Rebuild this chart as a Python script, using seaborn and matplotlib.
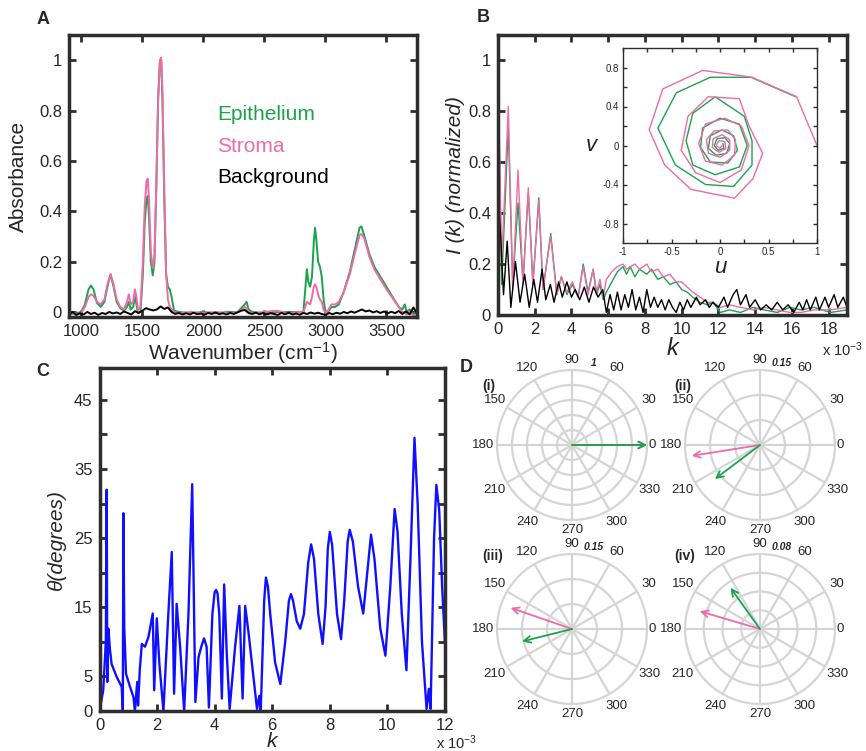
import matplotlib
matplotlib.use("Agg")
import matplotlib.pyplot as plt
import numpy as np
import seaborn as sns

# ---------------- A: FTIR spectra ----------------
wavenumber = [900, 950, 1000, 1030, 1060, 1080, 1100, 1130, 1160, 1190, 1215, 1240, 1265, 1290,
              1320, 1350, 1375, 1390, 1405, 1425, 1440, 1452, 1465, 1485, 1505, 1520, 1535, 1545,
              1555, 1570, 1586, 1600, 1615, 1630, 1645, 1655, 1665, 1680, 1695, 1710, 1725, 1740,
              1760, 1800, 1900, 2000, 2100, 2200, 2280, 2320, 2340, 2355, 2370, 2400, 2500, 2600,
              2700, 2780, 2820, 2835, 2848, 2860, 2875, 2890, 2905, 2915, 2925, 2940, 2955, 2970,
              2985, 3000, 3020, 3050, 3080, 3110, 3150, 3200, 3250, 3280, 3295, 3320, 3360, 3400,
              3450, 3500, 3550, 3600, 3630, 3650, 3665, 3690, 3720, 3750]
epithelium = [0.0, -0.005, 0.0, 0.03, 0.09, 0.105, 0.09, 0.035, 0.02, 0.04, 0.10, 0.15, 0.10, 0.04,
              0.015, 0.005, 0.02, 0.04, 0.01, 0.02, 0.06, 0.03, -0.005, 0.0, 0.15, 0.35, 0.45, 0.46,
              0.38, 0.2, 0.145, 0.2, 0.5, 0.85, 1.0, 1.0, 0.85, 0.45, 0.15, 0.1, 0.09, 0.06,
              0.005, 0.0, -0.005, 0.0, -0.005, 0.0, 0.0, 0.02, 0.03, 0.04, 0.01, 0.0, -0.005, 0.0,
              0.0, 0.0, 0.0, 0.09, 0.17, 0.12, 0.1, 0.14, 0.28, 0.335, 0.29, 0.2, 0.18, 0.14,
              0.05, 0.0, 0.0, 0.02, 0.02, 0.03, 0.08, 0.16, 0.27, 0.335, 0.34, 0.3, 0.23, 0.18,
              0.14, 0.1, 0.06, 0.02, 0.01, 0.03, 0.0, 0.01, -0.01, 0.005]
stroma = [-0.005, -0.01, -0.005, 0.02, 0.06, 0.07, 0.065, 0.04, 0.03, 0.05, 0.11, 0.15, 0.11, 0.05,
          0.02, 0.01, 0.04, 0.07, 0.03, 0.04, 0.09, 0.06, 0.01, 0.02, 0.2, 0.42, 0.52, 0.53,
          0.45, 0.24, 0.175, 0.22, 0.5, 0.84, 1.0, 1.01, 0.88, 0.5, 0.16, 0.05, 0.02, 0.01,
          0.0, -0.005, 0.0, -0.005, 0.0, -0.005, 0.0, 0.01, 0.02, 0.015, 0.0, -0.005, 0.0, 0.005,
          -0.005, 0.0, 0.0, 0.02, 0.04, 0.035, 0.03, 0.06, 0.1, 0.11, 0.1, 0.07, 0.05, 0.04,
          0.01, -0.005, 0.005, 0.03, 0.03, 0.04, 0.08, 0.15, 0.25, 0.305, 0.31, 0.29, 0.22, 0.17,
          0.13, 0.09, 0.055, 0.02, 0.0, 0.0, -0.01, 0.0, -0.015, -0.01]
bg_wavenumber = list(range(900, 3751, 30))
background = [-0.01, 0.0, -0.012, -0.005, -0.01, 0.0, -0.008, -0.003, -0.012, -0.004, -0.008, 0.0,
              -0.006, -0.002, -0.008, 0.002, -0.004, -0.01, 0.003, -0.004, 0.005, 0.015, 0.01, 0.006,
              0.01, 0.022, 0.012, 0.018, 0.0, -0.008, -0.004, -0.01, -0.005, -0.01, -0.003, -0.009,
              -0.006, -0.011, -0.004, -0.008, -0.002, -0.009, -0.005, -0.01, -0.004, -0.008, -0.002, 0.005,
              0.008, -0.004, -0.008, -0.003, -0.009, -0.004, -0.01, -0.005, -0.008, -0.012, -0.004, -0.009,
              -0.003, -0.01, -0.006, -0.011, -0.004, -0.008, -0.002, -0.007, -0.003, -0.008, -0.012, -0.004,
              -0.009, -0.003, -0.007, 0.0, -0.005, 0.002, -0.003, 0.004, 0.01, 0.002, 0.006, -0.002,
              0.003, -0.004, 0.002, -0.006, 0.001, -0.005, 0.004, -0.008, 0.002, -0.01, 0.018, -0.005]

# ---------------- B: I(k) ----------------
k_tissue = [0.0, 0.2, 0.56, 0.8, 1.09, 1.36, 1.65, 1.9, 2.22, 2.45, 2.87, 3.2, 3.45, 3.75, 4.05,
            4.36, 4.64, 4.9, 5.18, 5.36, 5.55, 5.73, 5.9, 6.2, 6.5, 6.8, 7.0, 7.2, 7.45, 7.7,
            8.1, 8.35, 8.7, 9.0, 9.36, 9.7, 10.0, 10.3, 10.6, 11.0, 11.4, 11.7, 12.1, 12.6, 13.2,
            13.9, 14.5, 15.2, 15.9, 16.5, 17.2, 18.1, 19.0]
Ik_stroma = [1.0, 0.2, 0.82, 0.1, 0.57, 0.12, 0.5, 0.12, 0.45, 0.1, 0.31, 0.08, 0.15, 0.09, 0.13,
             0.07, 0.19, 0.08, 0.18, 0.09, 0.14, 0.07, 0.14, 0.17, 0.19, 0.2, 0.18, 0.19, 0.2, 0.18,
             0.2, 0.17, 0.18, 0.15, 0.16, 0.13, 0.13, 0.11, 0.09, 0.07, 0.05, 0.05, 0.03, 0.04, 0.03,
             0.02, 0.03, 0.02, 0.01, 0.01, 0.02, 0.02, 0.03]
Ik_epithelium = [0.93, 0.12, 0.74, 0.12, 0.44, 0.13, 0.48, 0.12, 0.46, 0.1, 0.32, 0.08, 0.15, 0.08, 0.12,
                 0.07, 0.2, 0.09, 0.18, 0.08, 0.12, 0.06, 0.09, 0.13, 0.17, 0.19, 0.16, 0.19, 0.15, 0.18,
                 0.16, 0.18, 0.14, 0.15, 0.12, 0.13, 0.1, 0.09, 0.07, 0.05, 0.04, 0.05, 0.01, 0.02, 0.01,
                 0.03, 0.02, 0.01, 0.03, 0.02, 0.03, 0.01, 0.02]
k_bg = [0.0, 0.15, 0.3, 0.5, 0.7, 0.95, 1.2, 1.45, 1.7, 1.95, 2.15, 2.4, 2.6, 2.85, 3.05, 3.3, 3.5,
        3.75, 4.0, 4.2, 4.45, 4.7, 4.95, 5.2, 5.45, 5.7, 5.9, 6.1, 6.3, 6.5, 6.7, 6.9, 7.1, 7.3,
        7.5, 7.7, 7.9, 8.1, 8.3, 8.5, 8.7, 8.9, 9.1, 9.3, 9.5, 9.7, 9.9, 10.1, 10.3, 10.5, 10.8,
        11.0, 11.3, 11.5, 11.7, 12.0, 12.3, 12.5, 12.8, 13.0, 13.2, 13.5, 13.7, 14.0, 14.3, 14.6,
        14.9, 15.2, 15.5, 15.8, 16.1, 16.4, 16.6, 16.8, 17.0, 17.3, 17.5, 17.8, 18.0, 18.3, 18.5,
        18.8, 19.0]
Ik_background = [0.48, 0.3, 0.08, 0.29, 0.03, 0.21, 0.05, 0.16, 0.03, 0.14, 0.05, 0.18, 0.06, 0.12,
                 0.05, 0.13, 0.07, 0.13, 0.07, 0.1, 0.06, 0.11, 0.05, 0.11, 0.07, 0.1, 0.01, 0.08,
                 0.02, 0.09, 0.02, 0.08, 0.03, 0.1, 0.02, 0.07, 0.01, 0.1, 0.03, 0.07, 0.03, 0.06,
                 0.02, 0.06, 0.03, 0.01, 0.05, 0.02, 0.06, 0.03, 0.07, 0.04, 0.06, 0.03, 0.05, 0.03,
                 0.07, 0.03, 0.08, 0.1, 0.04, 0.08, 0.03, 0.06, 0.02, 0.04, 0.02, 0.05, 0.02, 0.04,
                 0.01, 0.05, 0.02, 0.06, 0.02, 0.07, 0.02, 0.07, 0.03, 0.08, 0.03, 0.07, 0.03]

# inset: (u, v) trajectories
u_stroma = [1.0, 0.79, 0.33, -0.18, -0.59, -0.73, -0.57, -0.3, 0.15, 0.34, 0.44, 0.3, 0.2, -0.12,
            -0.33, -0.4, -0.25, 0.0, 0.22, 0.3, 0.22, 0.05, -0.15, -0.22, -0.15, 0.02, 0.15, 0.16,
            0.08, -0.06, -0.14, -0.12, 0.0, 0.1, 0.1, 0.02, -0.07, -0.08, -0.01, 0.06, 0.05, -0.01,
            -0.04, 0.0, 0.02]
v_stroma = [0.0, 0.5, 0.7, 0.77, 0.58, 0.16, -0.2, -0.45, -0.54, -0.34, -0.08, 0.2, 0.48, 0.5,
            0.3, -0.05, -0.28, -0.38, -0.25, 0.0, 0.2, 0.28, 0.22, 0.02, -0.16, -0.2, -0.1, 0.06,
            0.16, 0.15, 0.06, -0.08, -0.12, -0.05, 0.06, 0.11, 0.07, -0.02, -0.07, -0.03, 0.04, 0.05,
            0.0, -0.03, 0.0]
u_epithelium = [0.78, 0.32, -0.1, -0.45, -0.64, -0.46, -0.15, 0.14, 0.33, 0.33, 0.25, -0.05, -0.28,
                -0.35, -0.28, -0.05, 0.2, 0.28, 0.2, 0.0, -0.18, -0.2, -0.1, 0.08, 0.18, 0.14, 0.02,
                -0.1, -0.12, -0.04, 0.07, 0.1, 0.05, -0.03, -0.06, -0.02, 0.04, 0.03]
v_epithelium = [0.5, 0.7, 0.7, 0.54, 0.18, -0.2, -0.4, -0.42, -0.2, 0.05, 0.3, 0.5, 0.33, 0.05,
                -0.2, -0.3, -0.22, 0.0, 0.22, 0.28, 0.18, -0.02, -0.17, -0.18, -0.05, 0.1, 0.16,
                0.1, -0.03, -0.1, -0.08, 0.02, 0.08, 0.07, 0.0, -0.05, -0.03, 0.02]

# ---------------- C: theta(k) ----------------
k_theta = [0.0, 0.13, 0.22, 0.25, 0.27, 0.31, 0.36, 0.42, 0.6, 0.77, 0.81, 0.83, 0.86, 0.92, 1.06,
           1.18, 1.23, 1.31, 1.34, 1.4, 1.47, 1.58, 1.7, 1.85, 1.9, 1.99, 2.08, 2.22, 2.39, 2.51,
           2.59, 2.68, 2.8, 2.94, 3.09, 3.22, 3.33, 3.44, 3.55, 3.63, 3.72, 3.8, 3.92, 4.0, 4.05,
           4.1, 4.16, 4.25, 4.33, 4.42, 4.52, 4.71, 4.86, 4.97, 5.06, 5.18, 5.47, 5.55, 5.6, 5.72,
           5.78, 5.85, 5.93, 6.1, 6.28, 6.45, 6.58, 6.65, 6.72, 6.85, 6.97, 7.1, 7.25, 7.35, 7.45,
           7.6, 7.75, 7.85, 7.93, 8.0, 8.08, 8.25, 8.39, 8.5, 8.62, 8.69, 8.8, 8.98, 9.16, 9.3,
           9.43, 9.55, 9.75, 9.93, 10.1, 10.25, 10.35, 10.5, 10.66, 10.8, 10.94, 11.05, 11.2,
           11.36, 11.44, 11.5, 11.62, 11.7, 11.8, 11.9, 12.0]
theta_deg = [0.0, 3.0, 10.0, 32.0, 4.2, 11.9, 9.0, 6.8, 4.9, 3.5, 0.0, 28.6, 12.0, 5.4, 3.5,
             2.0, 0.0, 4.2, 0.8, 6.0, 9.7, 9.3, 10.7, 14.1, 3.0, 13.4, 6.8, 0.0, 14.0, 23.0,
             2.5, 15.5, 9.3, 0.0, 14.0, 32.8, 1.3, 7.8, 9.5, 10.5, 9.3, 0.5, 14.0, 17.2, 17.5,
             17.0, 14.0, 1.8, 18.3, 8.3, 0.3, 9.3, 15.2, 1.8, 15.2, 11.2, 0.3, 2.2, 0.0, 16.0,
             19.3, 18.0, 14.0, 7.0, 3.9, 10.0, 16.0, 16.9, 16.0, 13.0, 11.9, 14.0, 21.5, 24.1, 22.0,
             14.0, 9.7, 15.0, 23.5, 25.9, 24.0, 14.0, 10.4, 16.0, 24.5, 26.2, 24.5, 18.0, 14.1, 20.0,
             25.5, 22.0, 12.0, 8.0, 18.0, 29.2, 26.0, 14.0, 5.9, 22.0, 39.5, 30.0, 10.0,
             0.3, 3.2, 0.3, 25.0, 32.7, 29.0, 18.0, 9.7]

# ---------------- D: polar vectors ----------------
polar_names = ["(i)", "(ii)", "(iii)", "(iv)"]
polar_rmax = [1.0, 0.15, 0.15, 0.08]
polar_rmax_label = ["1", "0.15", "0.15", "0.08"]
polar_rings = [[0.2, 0.4, 0.6, 0.8], [0.05, 0.1], [0.05, 0.1], [0.02, 0.04, 0.06]]
stroma_angle = [0, 189, 161, 163.6]
stroma_mag = [1.0, 0.138, 0.13, 0.067]
epi_angle = [0, 217, 194, 125.6]
epi_mag = [1.0, 0.113, 0.103, 0.054]

GREEN = "#1ba34c"
PINK = "#ef6aa7"
FRAME = "#2e2e2e"

sns.set_style("ticks")
plt.rcParams["font.family"] = ["Liberation Sans", "DejaVu Sans"]
plt.rcParams["mathtext.fontset"] = "custom"
plt.rcParams["mathtext.rm"] = "Liberation Sans"
plt.rcParams["mathtext.it"] = "Liberation Sans:italic"

W, H = 866, 751
fig = plt.figure(figsize=(W / 100, H / 100), dpi=100)


def box(x0, y0, x1, y1):
    # pixel box -> figure fraction
    return [x0 / W, 1 - y1 / H, (x1 - x0) / W, (y1 - y0) / H]


def frame(ax, lw=2.5, tl=5, tw=2, size=12):
    for sp in ax.spines.values():
        sp.set_visible(True)
        sp.set_linewidth(lw)
        sp.set_color(FRAME)
    ax.tick_params(direction="in", top=True, right=True, length=tl, width=tw,
                   color=FRAME, labelsize=size, pad=5)


# ---- A ----
axA = fig.add_axes(box(69, 35, 417, 317))
sns.lineplot(x=wavenumber, y=epithelium, ax=axA, color=GREEN, lw=1.4, estimator=None, sort=False)
sns.lineplot(x=wavenumber, y=stroma, ax=axA, color=PINK, lw=1.4, estimator=None, sort=False)
sns.lineplot(x=bg_wavenumber, y=background, ax=axA, color="black", lw=1.4, estimator=None, sort=False)
axA.set_xlim(900, 3750)
axA.set_ylim(-0.02, 1.1)
axA.set_xticks([1000, 1500, 2000, 2500, 3000, 3500])
axA.set_yticks([0, 0.2, 0.4, 0.6, 0.8, 1.0])
axA.set_yticklabels(["0", "0.2", "0.4", "0.6", "0.8", "1"])
frame(axA)
axA.set_xlabel("Wavenumber (cm$^{-1}$)", fontsize=15, labelpad=1)
axA.set_ylabel("Absorbance", fontsize=15, labelpad=8)
for txt, col, py in [("Epithelium", GREEN, 115), ("Stroma", PINK, 147), ("Background", "black", 178)]:
    axA.text((217 - 69) / 348, 1 - (py - 35) / 282, txt, color=col, fontsize=15,
             transform=axA.transAxes, va="center")

# ---- B ----
axB = fig.add_axes(box(498, 35, 847, 315))
sns.lineplot(x=k_tissue, y=Ik_epithelium, ax=axB, color=GREEN, lw=1.0, estimator=None, sort=False)
sns.lineplot(x=k_tissue, y=Ik_stroma, ax=axB, color=PINK, lw=1.0, estimator=None, sort=False)
sns.lineplot(x=k_bg, y=Ik_background, ax=axB, color="black", lw=1.0, estimator=None, sort=False)
axB.set_xlim(0, 19)
axB.set_ylim(0, 1.1)
axB.set_xticks(range(0, 19, 2))
axB.set_yticks([0, 0.2, 0.4, 0.6, 0.8, 1.0])
axB.set_yticklabels(["0", "0.2", "0.4", "0.6", "0.8", "1"])
frame(axB)
axB.set_xlabel("k", fontsize=17, fontstyle="italic", labelpad=0)
axB.set_ylabel("I (k) (normalized)", fontsize=15, fontstyle="italic", labelpad=2)
fig.text(822 / W, 1 - 350 / H, "x 10$^{-3}$", fontsize=10.5, va="center")

# inset
axI = fig.add_axes(box(623, 48, 817, 243))
sns.lineplot(x=u_epithelium, y=v_epithelium, ax=axI, color=GREEN, lw=1.0, estimator=None, sort=False)
sns.lineplot(x=u_stroma, y=v_stroma, ax=axI, color=PINK, lw=1.0, estimator=None, sort=False)
axI.set_xlim(-1, 1)
axI.set_ylim(-1, 1)
axI.set_xticks([-1, -0.75, -0.5, -0.25, 0, 0.25, 0.5, 0.75, 1])
axI.set_xticklabels(["-1", "", "-0.5", "", "0", "", "0.5", "", "1"])
axI.set_yticks([-0.8, -0.6, -0.4, -0.2, 0, 0.2, 0.4, 0.6, 0.8])
axI.set_yticklabels(["-0.8", "", "-0.4", "", "0", "", "0.4", "", "0.8"])
frame(axI, lw=1.0, tl=3, tw=1, size=7)
axI.tick_params(pad=3)
axI.set_xlabel("u", fontsize=16, fontstyle="italic", labelpad=0)
axI.set_ylabel("v", fontsize=16, fontstyle="italic", rotation=0, labelpad=8, va="center")

# ---- C ----
axC = fig.add_axes(box(99.5, 368, 445, 711))
sns.lineplot(x=k_theta, y=theta_deg, ax=axC, color="#1010ff", lw=1.7, estimator=None, sort=False)
axC.set_xlim(0, 12)
axC.set_ylim(0, 49.6)
axC.set_xticks(range(0, 13, 2))
axC.set_yticks(range(0, 50, 5))
axC.set_yticklabels(["0", "5", "", "15", "", "25", "", "35", "", "45"])
frame(axC)
axC.set_xlabel("k", fontsize=15, fontstyle="italic", labelpad=-1)
axC.set_ylabel("θ(degrees)", fontsize=15, fontstyle="italic", labelpad=6)
fig.text(436 / W, 1 - 743 / H, "x 10$^{-3}$", fontsize=10.5, va="center")

# ---- D ----
centers = [(572, 445), (760, 445), (572, 629), (760, 629)]
name_pos = [(489, 386), (683, 386), (493, 556), (685, 556)]
R = 75
for i, (cx, cy) in enumerate(centers):
    ax = fig.add_axes(box(cx - R, cy - R, cx + R, cy + R), projection="polar")
    rmax = polar_rmax[i]
    ax.set_ylim(0, rmax)
    ax.set_yticks(polar_rings[i])
    ax.set_yticklabels([])
    ax.set_xticks(np.deg2rad(np.arange(0, 360, 30)))
    ax.set_xticklabels([])
    ax.grid(True, color="#d5d5d5", lw=1.6)
    ax.spines["polar"].set_color("#d5d5d5")
    ax.spines["polar"].set_linewidth(1.6)
    for ang in range(0, 360, 30):
        t = np.deg2rad(ang)
        if ang == 0:
            ax.text(t, rmax * 1.02, "0", ha="left", va="center", fontsize=9.5)
        elif ang == 180:
            ax.text(t, rmax * 1.04, "180", ha="right", va="center", fontsize=9.5)
        elif ang in (90, 270):
            ax.text(t, rmax * 1.13, str(ang), ha="center", va="center", fontsize=9.5)
        else:
            ax.text(t, rmax * 1.19, str(ang), ha="center", va="center", fontsize=9.5)
    ax.text(np.deg2rad(75), rmax * 1.13, polar_rmax_label[i], ha="center", va="center",
            fontsize=7.5, fontweight="bold", fontstyle="italic")
    ax.annotate("", xy=(np.deg2rad(stroma_angle[i]), stroma_mag[i]), xytext=(0, 0),
                arrowprops=dict(arrowstyle="->", color=PINK, lw=1.3, shrinkA=0, shrinkB=0,
                                mutation_scale=12))
    ax.annotate("", xy=(np.deg2rad(epi_angle[i]), epi_mag[i]), xytext=(0, 0),
                arrowprops=dict(arrowstyle="->", color=GREEN, lw=1.3, shrinkA=0, shrinkB=0,
                                mutation_scale=12))
    fig.text(name_pos[i][0] / W, 1 - name_pos[i][1] / H, polar_names[i], fontsize=10,
             fontweight="bold", ha="center", va="center")

# panel letters
for letter, (px, py) in zip("ABCD", [(43, 20), (483, 18), (43, 372), (466, 367)]):
    fig.text(px / W, 1 - py / H, letter, fontsize=13, fontweight="bold", ha="center", va="center")

fig.savefig("out.png", dpi=100)
